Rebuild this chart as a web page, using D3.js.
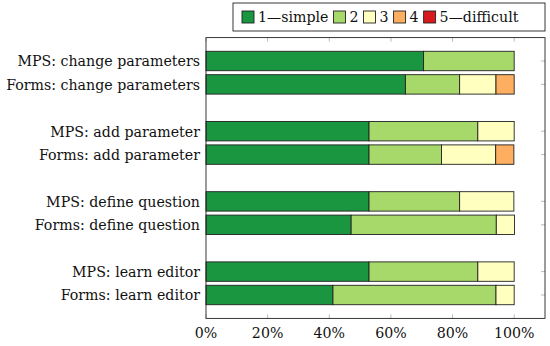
<!DOCTYPE html>
<html>
<head>
<meta charset="utf-8">
<script src="https://cdn.jsdelivr.net/npm/d3@7"></script>
<style>
  body { margin: 0; background: #fff; }
</style>
</head>
<body>
<div id="chart"></div>
<script>
(function() {

	// rows, top to bottom (each pair is one task)
	var categories = [
		"MPS: change parameters", "Forms: change parameters",
		"MPS: add parameter", "Forms: add parameter",
		"MPS: define question", "Forms: define question",
		"MPS: learn editor", "Forms: learn editor"
	];

	var levels = ["1\u2014simple", "2", "3", "4", "5\u2014difficult"];
	var colors = ["#1a9641", "#a6d96a", "#ffffbf", "#fdae61", "#d7191c"];

	// share of answers per level (percent), same order as categories
	var simple1 =    [70.6, 64.7, 52.9, 52.9, 52.9, 47.1, 52.9, 41.2];
	var level2 =     [29.4, 17.6, 35.3, 23.5, 29.4, 47.1, 35.3, 52.9];
	var level3 =     [0,    11.8, 11.8, 17.6, 17.6,  5.9, 11.8,  5.9];
	var level4 =     [0,     5.9,  0,    5.9,  0,    0,    0,    0];
	var difficult5 = [0,     0,    0,    0,    0,    0,    0,    0];

	var xTicks = [0, 20, 40, 60, 80, 100];

	var W = 550, H = 346;
	var margin = { top: 37.6, right: 5, bottom: 27.6, left: 206 };
	var serif = "'DejaVu Serif', serif";
	var fs = 15;

	var svg = d3.select("#chart").append("svg")
		.attr("width", W)
		.attr("height", H)
		.attr("font-family", serif)
		.attr("font-size", fs);

	// DejaVu Serif is wider than the original font: squeeze text horizontally
	var probe = svg.append("text").text("Forms: change parameters");
	var k = 194 / probe.node().getComputedTextLength();
	probe.remove();

	function label(sel, x0, y0, anchor, str) {
		return sel.append("text")
			.attr("transform", "translate(" + x0 + "," + y0 + ") scale(" + k + ",1)")
			.attr("text-anchor", anchor)
			.attr("dy", "0.36em")
			.attr("fill", "#111")
			.text(str);
	}

	var series = [simple1, level2, level3, level4, difficult5];

	var rows = categories.map(function(c, i) {
		var r = { name: c };
		levels.forEach(function(l, j) { r[l] = series[j][i]; });
		return r;
	});

	var stacked = d3.stack().keys(levels)(rows);

	// slots: a blank slot between each task pair
	var slots = [];
	categories.forEach(function(c, i) {
		if (i > 0 && i % 2 === 0) slots.push("gap" + i);
		slots.push(c);
	});

	var x = d3.scaleLinear()
		.domain([0, 110])
		.range([margin.left, W - margin.right]);

	var y = d3.scalePoint()
		.domain(slots)
		.range([margin.top, H - margin.bottom])
		.padding(1);

	var barH = y.step() * 0.83;

	var plot = svg.append("g");

	// inward ticks top / bottom
	var tickLen = 4;
	xTicks.forEach(function(t) {
		plot.append("line")
			.attr("x1", x(t)).attr("x2", x(t))
			.attr("y1", margin.top).attr("y2", margin.top + tickLen)
			.attr("stroke", "#aaa").attr("stroke-width", 0.8);
		plot.append("line")
			.attr("x1", x(t)).attr("x2", x(t))
			.attr("y1", H - margin.bottom).attr("y2", H - margin.bottom - tickLen)
			.attr("stroke", "#aaa").attr("stroke-width", 0.8);
	});

	// inward ticks on the right side
	categories.forEach(function(c) {
		plot.append("line")
			.attr("x1", W - margin.right).attr("x2", W - margin.right - tickLen)
			.attr("y1", y(c)).attr("y2", y(c))
			.attr("stroke", "#aaa").attr("stroke-width", 0.8);
	});

	var groups = plot.selectAll("g.layer")
		.data(stacked)
		.enter()
		.append("g")
		.attr("class", "layer")
		.attr("fill", function(d, i) { return colors[i]; });

	groups.selectAll("rect")
		.data(function(d) { return d.filter(function(p) { return p[1] - p[0] > 0; }); })
		.enter()
		.append("rect")
		.attr("x", function(d) { return x(d[0]); })
		.attr("y", function(d) { return y(d.data.name) - barH / 2; })
		.attr("width", function(d) { return x(d[1]) - x(d[0]); })
		.attr("height", barH)
		.attr("stroke", "#222")
		.attr("stroke-width", 0.9);

	// frame
	plot.append("rect")
		.attr("x", margin.left)
		.attr("y", margin.top)
		.attr("width", W - margin.right - margin.left)
		.attr("height", H - margin.bottom - margin.top)
		.attr("fill", "none")
		.attr("stroke", "#222")
		.attr("stroke-width", 0.9);

	// y labels
	categories.forEach(function(c) {
		label(svg, margin.left - 6, y(c), "end", c);
	});

	// x tick labels
	xTicks.forEach(function(t) {
		label(svg, x(t), 333, "middle", t + "%");
	});

	// legend
	var legend = svg.append("g");
	var lx = 233, ly = 3, lh = 28;
	var box = legend.append("rect")
		.attr("x", lx).attr("y", ly)
		.attr("height", lh)
		.attr("fill", "#fff")
		.attr("stroke", "#222")
		.attr("stroke-width", 0.9);

	var cx = lx + 9;
	levels.forEach(function(l, i) {
		legend.append("rect")
			.attr("x", cx).attr("y", ly + lh / 2 - 6)
			.attr("width", 12).attr("height", 12)
			.attr("fill", colors[i])
			.attr("stroke", "#222")
			.attr("stroke-width", 0.9);
		var t = label(legend, cx + 16, ly + lh / 2, "start", l);
		cx += 16 + t.node().getComputedTextLength() * k + 5;
	});
	box.attr("width", W - margin.right - lx);

})();
</script>
</body>
</html>
